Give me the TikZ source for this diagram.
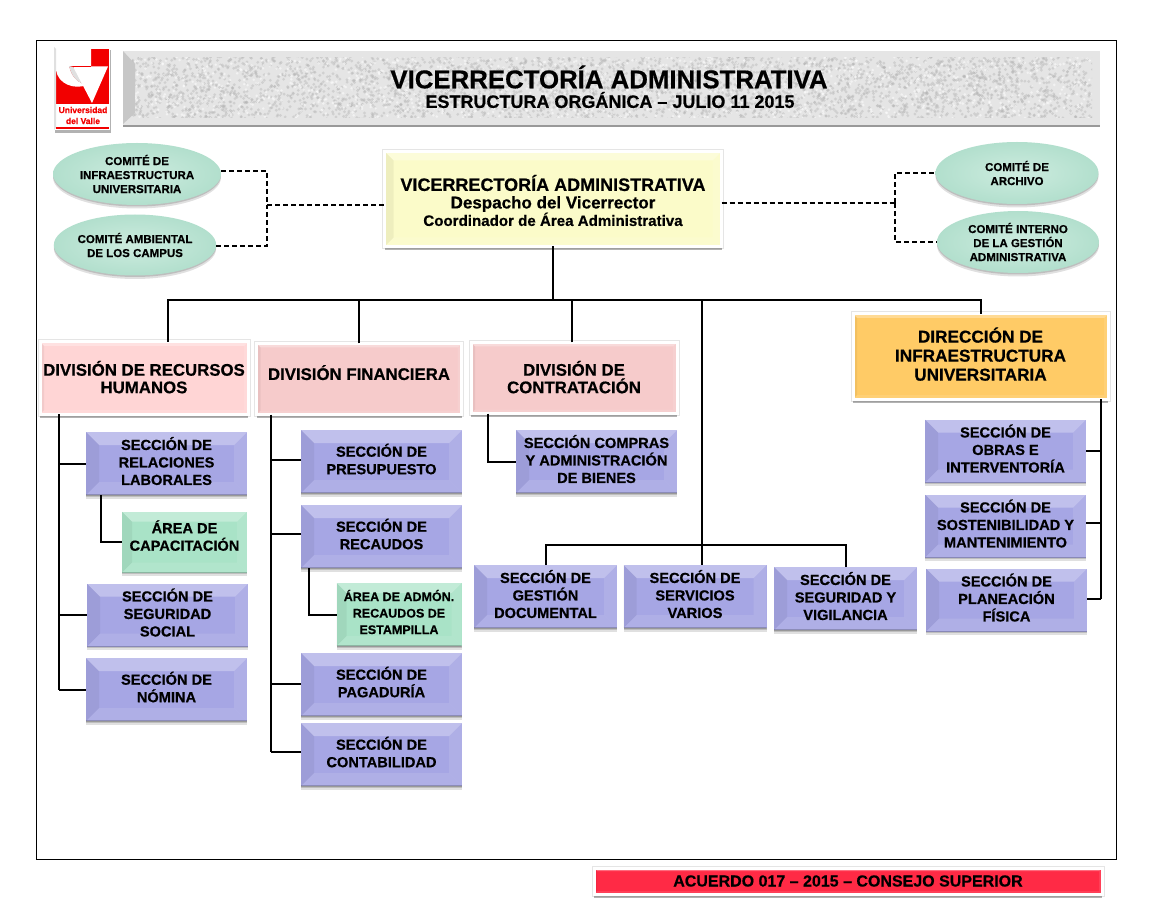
\documentclass[tikz,border=0pt]{standalone}
\usepackage{fontspec}
\setmainfont{Liberation Sans}[BoldFeatures={FakeBold=0.5}]
\usetikzlibrary{shapes.geometric,shadows}
\usepackage{xcolor}

\definecolor{secblue}{HTML}{A6A6E4}
\definecolor{areagreen}{HTML}{A9E3C7}
\definecolor{divpink}{HTML}{F6CBCB}
\definecolor{rhpink}{HTML}{FFD5D5}
\definecolor{dirorange}{HTML}{FFCB66}
\definecolor{vryellow}{HTML}{FBFBC9}
\definecolor{footred}{HTML}{FF2A45}
\definecolor{comgreen}{HTML}{CDECDF}
\definecolor{comrim}{HTML}{B2DFCD}

\tikzset{
  bevel/.style={path picture={
    \coordinate (pnw) at (path picture bounding box.north west);
    \coordinate (pne) at (path picture bounding box.north east);
    \coordinate (psw) at (path picture bounding box.south west);
    \coordinate (pse) at (path picture bounding box.south east);
    \fill[white,opacity=.3] (pnw) -- (pne) -- ([xshift=-#1pt,yshift=-#1pt]pne) -- ([xshift=#1pt,yshift=-#1pt]pnw) -- cycle;
    \fill[black,opacity=.05] (pnw) -- (psw) -- ([xshift=#1pt,yshift=#1pt]psw) -- ([xshift=#1pt,yshift=-#1pt]pnw) -- cycle;
    \fill[white,opacity=.1] (pne) -- (pse) -- ([xshift=-#1pt,yshift=#1pt]pse) -- ([xshift=-#1pt,yshift=-#1pt]pne) -- cycle;
    \fill[white,opacity=.1] (psw) -- (pse) -- ([xshift=-#1pt,yshift=#1pt]pse) -- ([xshift=#1pt,yshift=#1pt]psw) -- cycle;
    \draw[black,opacity=.2,line width=1.5pt] (psw) -- (pse);
  }},
  softshadow/.style={
    drop shadow={shadow xshift=0pt,shadow yshift=-1.5pt,fill=black,opacity=.15},
    drop shadow={shadow xshift=0pt,shadow yshift=-3.5pt,fill=black,opacity=.12}},
  textup/.style={execute at end node={\rule[-#1pt]{0pt}{1pt}}},
  secbox/.style={fill=secblue,draw=none,outer sep=0pt,inner sep=0pt,align=center,softshadow,bevel=13,textup=5,
    minimum width=161pt,minimum height=63pt,font=\bfseries\fontsize{14.6}{17.5}\selectfont},
  smallsec/.style={secbox,minimum width=143pt},
  areabox/.style={secbox,fill=areagreen,bevel=10,minimum width=125pt,minimum height=61pt},
  headbox/.style={preaction={draw=black!10,line width=5pt},draw=white,line width=3pt,outer sep=0pt,inner sep=0pt,align=center,
    drop shadow={shadow xshift=0pt,shadow yshift=-3.5pt,fill=black,opacity=.3},bevel=4,
    font=\bfseries\fontsize{16.8}{17.5}\selectfont},
  combox/.style={ellipse,draw=none,inner color=comgreen,outer color=comrim,inner sep=0pt,outer sep=0pt,
    align=center,softshadow,font=\bfseries\fontsize{11.5}{14}\selectfont},
  link/.style={draw=black,line width=2pt},
  dashlink/.style={draw=black,line width=2pt,dash pattern=on 5pt off 3pt},
}

\begin{document}
\begin{tikzpicture}[x=1pt,y=-1pt]
\useasboundingbox (0,0) rectangle (1149,909);
\fill[white] (0,0) rectangle (1149,909);

% marco
\draw[black,line width=1pt] (36.5,41) rectangle (1116,859.5);

% escudo
\fill[black!30] (55,50) rectangle (111,133);
\fill[white] (54,47) rectangle (110,130);
\fill[red!95!black] (56,49) rectangle (109,104);
\fill[white] (56,49) -- (91,49) -- (91,66) -- (69,66) .. controls (72,78) and (78,83) .. (87,85) .. controls (74,90) and (58,84) .. (56,70) -- cycle;
\fill[black!12] (69,66) .. controls (72,78) and (78,83) .. (87,85) -- (73,67) -- cycle;
\fill[black!12] (54,47) -- (56,49) -- (56,128) -- (54,130) -- cycle;
\fill[white] (73,66.5) -- (108,66.5) -- (92,103) -- cycle;
\draw[red!95!black,line width=.7pt] (73,66.5) -- (91,66.5);
\fill[red!95!black] (56,127.5) rectangle (109,129);
\node[red!95!black,inner sep=0pt,align=center,font=\bfseries\fontsize{8.5}{11}\selectfont] (logotxt) at (83,115.5) {Universidad\\del Valle};

% banda del titulo
\fill[black!40] (123,124) rectangle (1100,127);
\fill[black!10] (123,51) rectangle (1100,125);
\pgfmathsetseed{11}
\begin{scope}
\clip (132,58) rectangle (1092,118);
\foreach \k in {1,...,4500} {
  \fill[black!30,opacity=.4] ({123+rnd*977},{51+rnd*74}) circle (1.6pt);
}
\foreach \k in {1,...,1500} {
  \fill[white,opacity=.5] ({123+rnd*977},{51+rnd*74}) circle (1.4pt);
}
\end{scope}
\fill[black!22] (123,51) -- (135,64) -- (135,113) -- (123,124) -- cycle;
\node[font=\bfseries\fontsize{25.8}{28}\selectfont,inner sep=0pt] (titulo) at (609,77) {VICERRECTORÍA ADMINISTRATIVA};
\node[font=\bfseries\fontsize{18}{20}\selectfont,inner sep=0pt] (subtit) at (610,100) {ESTRUCTURA ORGÁNICA -- JULIO 11 2015};

% comites
\node[combox,minimum width=168pt,minimum height=62pt] (cinfra) at (137,174) {COMITÉ DE\\INFRAESTRUCTURA\\UNIVERSITARIA};
\node[combox,minimum width=160pt,minimum height=61pt] (campus) at (135,245) {COMITÉ AMBIENTAL\\DE LOS CAMPUS};
\node[combox,minimum width=163pt,minimum height=62pt] (carch) at (1017,173) {COMITÉ DE\\ARCHIVO};
\node[combox,minimum width=162pt,minimum height=62pt] (cint) at (1018,242) {COMITÉ INTERNO\\DE LA GESTIÓN\\ADMINISTRATIVA};

% cabezas
\node[headbox,fill=vryellow,minimum width=337pt,minimum height=95pt,bevel=9] (vice) at (553,199) {%
  {\rule{0pt}{19pt}\fontsize{18}{20}\selectfont VICERRECTORÍA ADMINISTRATIVA}\\
  {\fontsize{17}{18}\selectfont Despacho del Vicerrector}\\
  {\fontsize{15.1}{16}\selectfont Coordinador de Área Administrativa}};
\node[headbox,fill=rhpink,minimum width=208pt,minimum height=72pt,textup=2] (rh) at (144,378) {DIVISIÓN DE RECURSOS\\HUMANOS};
\node[headbox,fill=divpink,minimum width=205pt,minimum height=71pt,textup=13] (fin) at (359,379) {DIVISIÓN FINANCIERA};
\node[headbox,fill=divpink,minimum width=206pt,minimum height=71pt,textup=2] (contr) at (574,378) {DIVISIÓN DE\\CONTRATACIÓN};
\node[headbox,fill=dirorange,minimum width=255pt,minimum height=85pt,textup=5,font=\bfseries\fontsize{17.2}{19}\selectfont] (infra) at (980.5,356.5) {DIRECCIÓN DE\\INFRAESTRUCTURA\\UNIVERSITARIA};

% secciones de recursos humanos
\node[secbox] (relac) at (166.5,463.5) {SECCIÓN DE\\RELACIONES\\LABORALES};
\node[areabox,textup=13] (capac) at (184.5,542) {ÁREA DE\\CAPACITACIÓN};
\node[secbox] (segsoc) at (167.5,615) {SECCIÓN DE\\SEGURIDAD\\SOCIAL};
\node[secbox] (nomina) at (166.5,689.5) {SECCIÓN DE\\NÓMINA};

% secciones financiera
\node[secbox] (presu) at (381.5,461.5) {SECCIÓN DE\\PRESUPUESTO};
\node[secbox] (recaud) at (381.5,536.5) {SECCIÓN DE\\RECAUDOS};
\node[areabox,minimum height=63pt,font=\bfseries\fontsize{12.5}{16.5}\selectfont] (estamp) at (399,614.5) {ÁREA DE ADMÓN.\\RECAUDOS DE\\ESTAMPILLA};
\node[secbox] (pagad) at (381.5,684.5) {SECCIÓN DE\\PAGADURÍA};
\node[secbox] (contab) at (381.5,754.5) {SECCIÓN DE\\CONTABILIDAD};

% contratacion y secciones del centro
\node[secbox] (compras) at (596.5,461.5) {SECCIÓN COMPRAS\\Y ADMINISTRACIÓN\\DE BIENES};
\node[smallsec] (gestdoc) at (545.5,596.5) {SECCIÓN DE\\GESTIÓN\\DOCUMENTAL};
\node[smallsec] (servar) at (695,596.5) {SECCIÓN DE\\SERVICIOS\\VARIOS};
\node[smallsec] (segvig) at (845.5,598.5) {SECCIÓN DE\\SEGURIDAD Y\\VIGILANCIA};

% secciones de infraestructura
\node[secbox] (obras) at (1005.5,451) {SECCIÓN DE\\OBRAS E\\INTERVENTORÍA};
\node[secbox] (sosten) at (1005.5,526) {SECCIÓN DE\\SOSTENIBILIDAD Y\\MANTENIMIENTO};
\node[secbox] (planea) at (1006.5,600) {SECCIÓN DE\\PLANEACIÓN\\FÍSICA};

% pie
\node[headbox,fill=footred,bevel=3,minimum width=508pt,minimum height=26pt,
  font=\bfseries\fontsize{16}{18}\selectfont] (acuerdo) at (848,881) {ACUERDO 017 -- 2015 -- CONSEJO SUPERIOR};

% puntos de paso
\coordinate (bus) at (553,300);
\coordinate (busc) at (702,300);
\coordinate (midbus) at (702,545);
\coordinate (dashl) at (267,205);
\coordinate (dashr) at (895,203);
\coordinate (rhtrunk) at (59,689.5);
\coordinate (rltrunk) at (101,540);
\coordinate (fintrunk) at (271,752);
\coordinate (rectrunk) at (309,613);
\coordinate (contrtrunk) at (488,461);
\coordinate (infratrunk) at (1101,599);

% lineas a trazos
\draw[dashlink] ([yshift=3pt]cinfra.east) -| (dashl);
\draw[dashlink] ([yshift=-1pt]campus.east) -| (dashl);
\draw[dashlink] (dashl) -- (vice.west |- dashl);
\draw[dashlink] (vice.east |- dashr) -- (dashr);
\draw[dashlink] (dashr) |- (carch.west);
\draw[dashlink] (dashr) |- (cint.west);

% organigrama
\draw[link] (vice.south) -- (bus);
\draw[link] ([xshift=24pt]rh.north) |- (bus);
\draw[link] (infra.north) |- (bus);
\draw[link] (fin.north) -- (fin.north |- bus);
\draw[link] ([xshift=-2pt]contr.north) |- (bus);
\draw[link] (busc) -- (servar.north -| busc);
\draw[link] (gestdoc.north) |- (midbus);
\draw[link] (segvig.north) |- (midbus);

\draw[link] (rhtrunk |- rh.south) -- (rhtrunk);
\foreach \s in {relac,segsoc,nomina} \draw[link] (rhtrunk |- \s.west) -- (\s.west);
\draw[link] (rltrunk |- relac.south) |- (capac.west);

\draw[link] (fintrunk |- fin.south) -- (fintrunk);
\foreach \s/\d in {presu/1.5,recaud/2.5,pagad/0.5,contab/2.5} \draw[link] ([yshift=\d pt]\s.west) -| (fintrunk);
\draw[link] (rectrunk |- recaud.south) |- (estamp.west);

\draw[link] (contrtrunk |- contr.south) |- (compras.west);

\draw[link] (infratrunk |- infra.south) -- (infratrunk);
\foreach \s/\d in {obras/0,sosten/3,planea/1} \draw[link] ([yshift=\d pt]\s.east) -| (infratrunk);

\end{tikzpicture}
\end{document}
